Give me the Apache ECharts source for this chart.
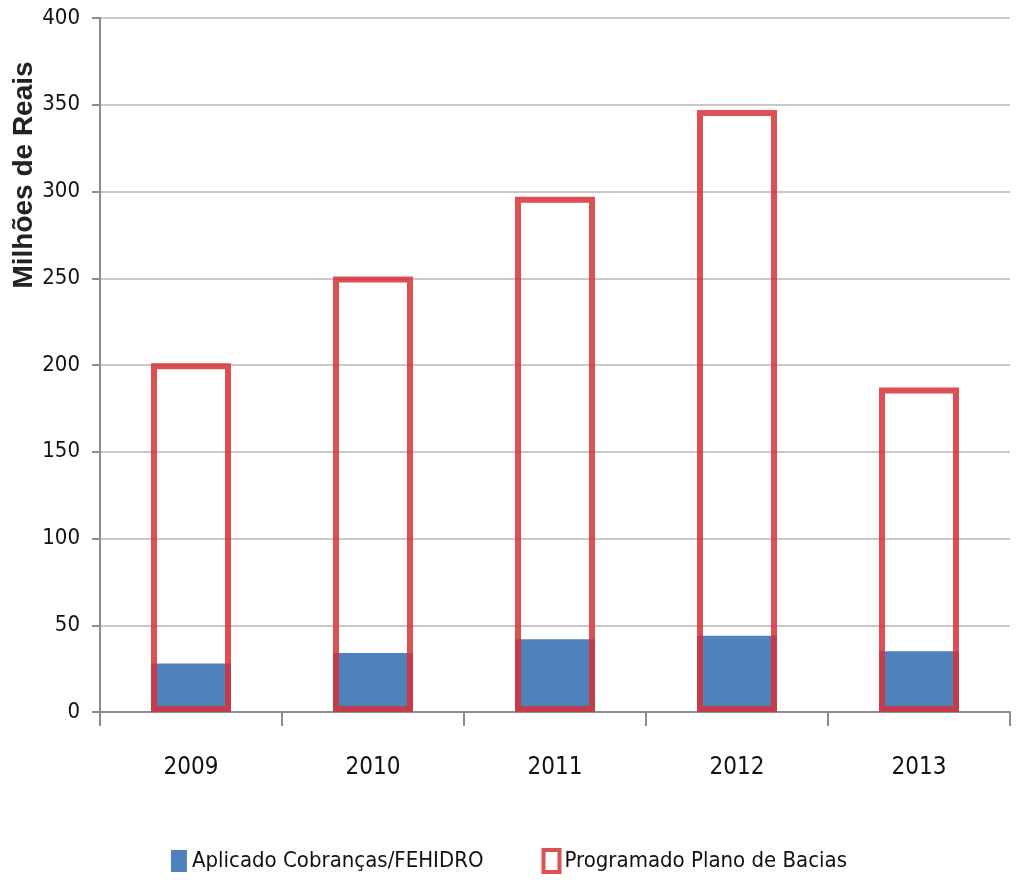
<!DOCTYPE html>
<html>
<head>
<meta charset="utf-8">
<script src="https://cdn.jsdelivr.net/npm/echarts@6/dist/echarts.min.js"></script>
<style>
  html, body { margin: 0; padding: 0; background: #fff; }
  #chart { width: 1018px; height: 880px; }
</style>
</head>
<body>
<div id="chart"></div>
<script>
// dados
var anos = ['2009', '2010', '2011', '2012', '2013'];
var aplicado = [28, 34, 42, 44, 35];
var programado = [201, 251, 297, 347, 187];
var yTicks = [0, 50, 100, 150, 200, 250, 300, 350, 400];

var FONT = '"DejaVu Sans Condensed", "Liberation Sans", sans-serif';
var RED = 'rgba(214, 48, 54, 0.85)';
var BLUE = '#4F81BD';

var chart = echarts.init(document.getElementById('chart'));

var option = {
  animation: false,
  backgroundColor: '#fff',
  grid: {
    left: 100,
    right: 8,
    top: 18,
    bottom: 168
  },
  legend: {
    left: 'center',
    top: 843,
    itemWidth: 16,
    itemHeight: 22,
    itemGap: 58,
    textStyle: {
      fontFamily: FONT,
      fontSize: 22,
      color: '#111'
    },
    data: [
      { name: 'Aplicado Cobranças/FEHIDRO', icon: 'rect' },
      {
        name: 'Programado Plano de Bacias',
        icon: 'rect',
        itemStyle: { color: '#fff', borderColor: RED, borderWidth: 4 }
      }
    ]
  },
  xAxis: {
    type: 'category',
    data: anos,
    axisLine: { lineStyle: { color: '#8c8c8c', width: 2 } },
    axisTick: {
      show: true,
      alignWithLabel: false,
      length: 14,
      lineStyle: { color: '#8c8c8c', width: 2 }
    },
    axisLabel: {
      margin: 44,
      fontFamily: FONT,
      fontSize: 24,
      color: '#111'
    }
  },
  yAxis: {
    type: 'value',
    min: yTicks[0],
    max: yTicks[yTicks.length - 1],
    interval: 50,
    axisLine: { show: true, lineStyle: { color: '#8c8c8c', width: 2 } },
    axisTick: { show: true, length: 8, lineStyle: { color: '#8c8c8c', width: 2 } },
    splitLine: { lineStyle: { color: '#c8c8c8', width: 2 } },
    axisLabel: {
      margin: 20,
      fontFamily: FONT,
      fontSize: 22,
      color: '#111'
    }
  },
  graphic: [
    {
      type: 'text',
      x: 24,
      y: 175,
      rotation: Math.PI / 2,
      style: {
        text: 'Milhões de Reais',
        fontFamily: '"Liberation Sans", Arial, sans-serif',
        fontWeight: 'bold',
        fontSize: 28,
        fill: '#222',
        align: 'center',
        verticalAlign: 'middle'
      }
    }
  ],
  series: [
    {
      name: 'Aplicado Cobranças/FEHIDRO',
      type: 'bar',
      barWidth: 80,
      barGap: '-100%',
      itemStyle: { color: BLUE },
      data: aplicado
    },
    {
      name: 'Programado Plano de Bacias',
      type: 'bar',
      barWidth: 80,
      barGap: '-100%',
      itemStyle: {
        color: 'transparent',
        borderColor: RED,
        borderWidth: 6
      },
      data: programado
    }
  ]
};

chart.setOption(option);
</script>
</body>
</html>
